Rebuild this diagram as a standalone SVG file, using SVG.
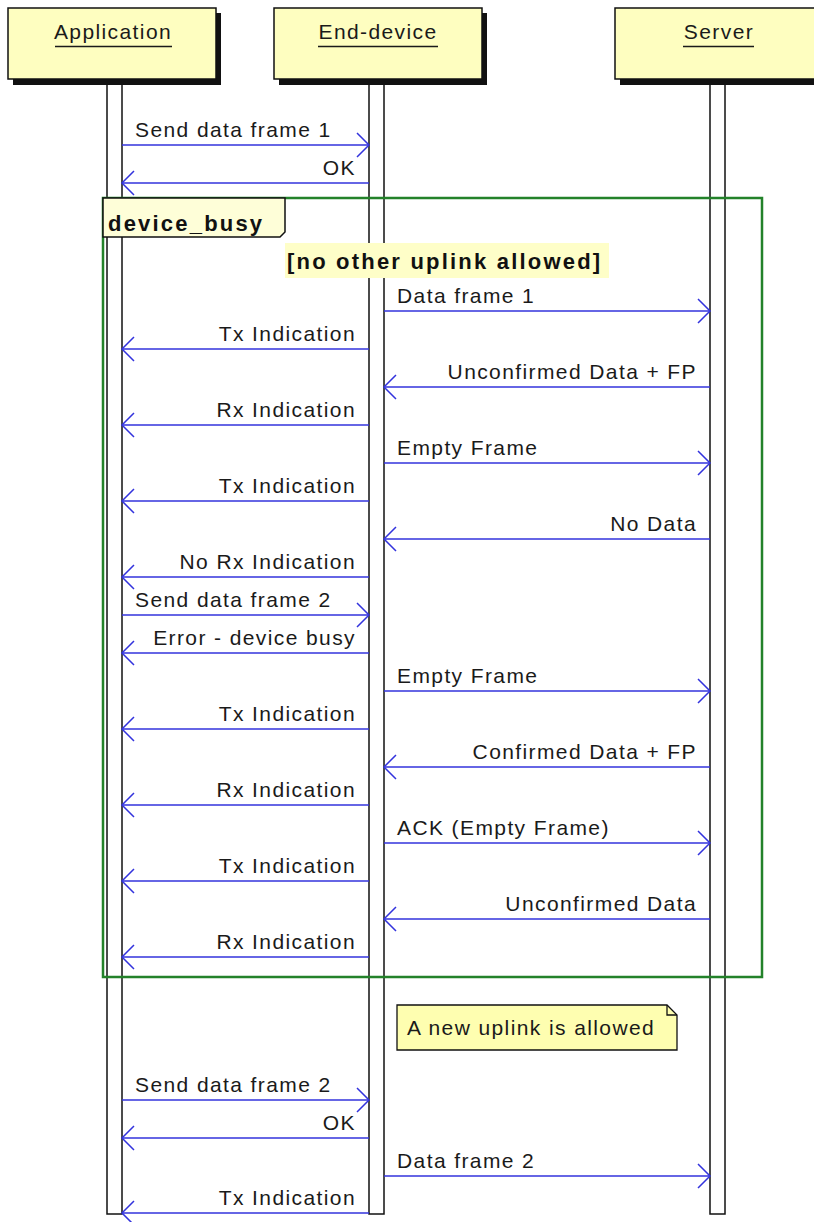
<svg xmlns="http://www.w3.org/2000/svg" width="814" height="1222" viewBox="0 0 814 1222">
<style>
.bg{fill:#ffffff}
.pbox{fill:#fefec0;stroke:#111;stroke-width:1.5}
.shadow{fill:#111}
.pl{font-family:"Liberation Sans",Arial,sans-serif;font-size:21px;fill:#1a1a1a;letter-spacing:1.4px;text-anchor:middle}
.ul{stroke:#1a1a1a;stroke-width:1.6}
.life{fill:#fff;stroke:#111;stroke-width:1.5}
.msg{stroke:#3333dd;stroke-width:1.5;fill:none}
.t{font-family:"Liberation Sans",Arial,sans-serif;font-size:21px;fill:#1a1a1a;letter-spacing:1.4px}
.r{text-anchor:end}
.b{font-family:"Liberation Sans",Arial,sans-serif;font-size:22px;font-weight:bold;fill:#111;letter-spacing:2.2px}
.frame{fill:none;stroke:#23822a;stroke-width:2.5}
.tab{fill:#fefed8;stroke:#111;stroke-width:1.5}
.note{fill:#fefeb0;stroke:#111;stroke-width:1.3}
</style>
<defs>
<marker id="ah" viewBox="-14 -14 16 28" refX="0" refY="0" markerWidth="16" markerHeight="28" orient="auto" markerUnits="userSpaceOnUse">
<path d="M-12,-12 L0,0 L-12,12" fill="none" stroke="#3333dd" stroke-width="1.5"/>
</marker>
</defs>
<rect class="bg" x="0" y="0" width="814" height="1222"/>

<g id="lifelines">
<rect class="life" x="107" y="80" width="15" height="1134"/>
<rect class="life" x="369" y="80" width="15" height="1134"/>
<rect class="life" x="710" y="80" width="15" height="1134"/>
</g>

<g id="application">
<rect class="shadow" x="13" y="13" width="208" height="72"/>
<rect class="pbox" x="8" y="8" width="208" height="71"/>
<text class="pl" x="113" y="39">Application</text>
<line class="ul" x1="55" y1="46.5" x2="172" y2="46.5"/>
</g>
<g id="end-device">
<rect class="shadow" x="279" y="13" width="208" height="72"/>
<rect class="pbox" x="274" y="8" width="208" height="71"/>
<text class="pl" x="378" y="39">End-device</text>
<line class="ul" x1="318" y1="46.5" x2="438" y2="46.5"/>
</g>
<g id="server">
<rect class="shadow" x="620" y="13" width="208" height="72"/>
<rect class="pbox" x="615" y="8" width="208" height="71"/>
<text class="pl" x="719" y="39">Server</text>
<line class="ul" x1="683" y1="46.5" x2="754" y2="46.5"/>
</g>

<g id="group-device_busy">
<rect class="frame" x="103" y="198" width="659" height="779"/>
<path class="tab" d="M103,198 L285,198 L285,232 L280,237 L103,237 Z"/>
<text class="b" x="108" y="231">device_busy</text>
<rect x="285" y="243" width="324" height="35" fill="#fefec8"/>
<text class="b" x="287" y="269">[no other uplink allowed]</text>
</g>

<g id="note">
<path class="note" d="M397,1005 L667,1005 L677,1015 L677,1050 L397,1050 Z"/>
<path d="M667,1005 L667,1015 L677,1015" fill="none" stroke="#111" stroke-width="1.3"/>
<text class="t" x="407" y="1035">A new uplink is allowed</text>
</g>

<g id="connectors">
<line class="msg" x1="122" y1="145" x2="369" y2="145" marker-end="url(#ah)"/>
<text class="t" x="135" y="137">Send data frame 1</text>
<line class="msg" x1="369" y1="183" x2="122" y2="183" marker-end="url(#ah)"/>
<text class="t r" x="356" y="175">OK</text>

<line class="msg" x1="384" y1="311" x2="710" y2="311" marker-end="url(#ah)"/>
<text class="t" x="397" y="303">Data frame 1</text>
<line class="msg" x1="369" y1="349" x2="122" y2="349" marker-end="url(#ah)"/>
<text class="t r" x="356" y="341">Tx Indication</text>
<line class="msg" x1="710" y1="387" x2="384" y2="387" marker-end="url(#ah)"/>
<text class="t r" x="697" y="379">Unconfirmed Data + FP</text>
<line class="msg" x1="369" y1="425" x2="122" y2="425" marker-end="url(#ah)"/>
<text class="t r" x="356" y="417">Rx Indication</text>
<line class="msg" x1="384" y1="463" x2="710" y2="463" marker-end="url(#ah)"/>
<text class="t" x="397" y="455">Empty Frame</text>
<line class="msg" x1="369" y1="501" x2="122" y2="501" marker-end="url(#ah)"/>
<text class="t r" x="356" y="493">Tx Indication</text>
<line class="msg" x1="710" y1="539" x2="384" y2="539" marker-end="url(#ah)"/>
<text class="t r" x="697" y="531">No Data</text>
<line class="msg" x1="369" y1="577" x2="122" y2="577" marker-end="url(#ah)"/>
<text class="t r" x="356" y="569">No Rx Indication</text>
<line class="msg" x1="122" y1="615" x2="369" y2="615" marker-end="url(#ah)"/>
<text class="t" x="135" y="607">Send data frame 2</text>
<line class="msg" x1="369" y1="653" x2="122" y2="653" marker-end="url(#ah)"/>
<text class="t r" x="356" y="645">Error - device busy</text>
<line class="msg" x1="384" y1="691" x2="710" y2="691" marker-end="url(#ah)"/>
<text class="t" x="397" y="683">Empty Frame</text>
<line class="msg" x1="369" y1="729" x2="122" y2="729" marker-end="url(#ah)"/>
<text class="t r" x="356" y="721">Tx Indication</text>
<line class="msg" x1="710" y1="767" x2="384" y2="767" marker-end="url(#ah)"/>
<text class="t r" x="697" y="759">Confirmed Data + FP</text>
<line class="msg" x1="369" y1="805" x2="122" y2="805" marker-end="url(#ah)"/>
<text class="t r" x="356" y="797">Rx Indication</text>
<line class="msg" x1="384" y1="843" x2="710" y2="843" marker-end="url(#ah)"/>
<text class="t" x="397" y="835">ACK (Empty Frame)</text>
<line class="msg" x1="369" y1="881" x2="122" y2="881" marker-end="url(#ah)"/>
<text class="t r" x="356" y="873">Tx Indication</text>
<line class="msg" x1="710" y1="919" x2="384" y2="919" marker-end="url(#ah)"/>
<text class="t r" x="697" y="911">Unconfirmed Data</text>
<line class="msg" x1="369" y1="957" x2="122" y2="957" marker-end="url(#ah)"/>
<text class="t r" x="356" y="949">Rx Indication</text>

<line class="msg" x1="122" y1="1100" x2="369" y2="1100" marker-end="url(#ah)"/>
<text class="t" x="135" y="1092">Send data frame 2</text>
<line class="msg" x1="369" y1="1138" x2="122" y2="1138" marker-end="url(#ah)"/>
<text class="t r" x="356" y="1130">OK</text>
<line class="msg" x1="384" y1="1176" x2="710" y2="1176" marker-end="url(#ah)"/>
<text class="t" x="397" y="1168">Data frame 2</text>
<line class="msg" x1="369" y1="1213" x2="122" y2="1213" marker-end="url(#ah)"/>
<text class="t r" x="356" y="1205">Tx Indication</text>
</g>
</svg>
